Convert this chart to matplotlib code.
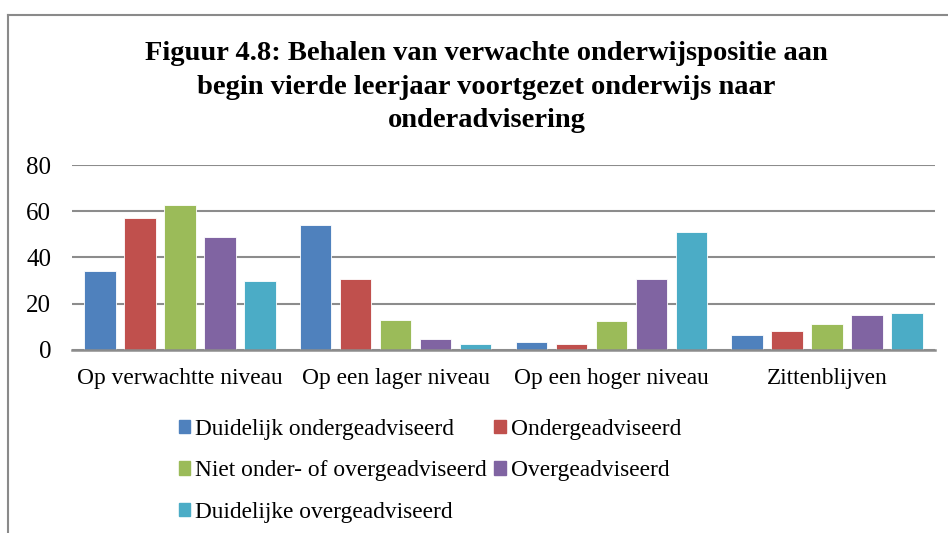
import matplotlib.pyplot as plt
import numpy as np
from matplotlib.lines import Line2D
from matplotlib.patches import Patch

plt.rcParams['font.family'] = ['Liberation Serif', 'DejaVu Serif']

categories = ['Op verwachtte niveau', 'Op een lager niveau', 'Op een hoger niveau', 'Zittenblijven']
series = ['Duidelijk ondergeadviseerd', 'Ondergeadviseerd', 'Niet onder- of overgeadviseerd',
          'Overgeadviseerd', 'Duidelijke overgeadviseerd']
values = [
    [34.1, 54.0, 3.2, 6.4],
    [57.0, 30.6, 2.3, 8.1],
    [62.7, 12.7, 12.3, 11.3],
    [48.7, 4.6, 30.8, 15.0],
    [29.9, 2.3, 50.8, 15.8],
]
colors = ['#4F81BD', '#C0504D', '#9BBB59', '#8064A2', '#4BACC6']
title_lines = ['Figuur 4.8: Behalen van verwachte onderwijspositie aan',
               'begin vierde leerjaar voortgezet onderwijs naar',
               'onderadvisering']

fig = plt.figure(figsize=(9.48, 5.33), dpi=100)
ax = fig.add_axes([72 / 948, 1 - 349.7 / 533, 863 / 948, 184.7 / 533])

x = np.arange(len(categories))
pitch = 0.1854
width = 0.146
for i, (name, vals) in enumerate(zip(series, values)):
    ax.bar(x + (i - 2) * pitch, vals, width, color=colors[i], label=name,
           edgecolor='white', linewidth=0.6, zorder=3)

ax.set_xlim(-0.5, 3.5)
ax.set_ylim(0, 80)
ax.set_yticks([0, 20, 40, 60, 80])
ax.yaxis.grid(True, color='#8c8c8c', linewidth=1.5, zorder=0)
ax.set_xticks(x)
ax.set_xticklabels(categories)
ax.tick_params(axis='both', length=0)
ax.tick_params(axis='x', pad=13, labelsize=16.8)
ax.tick_params(axis='y', pad=15, labelsize=18)
for s in ['top', 'right', 'left']:
    ax.spines[s].set_visible(False)
ax.spines['bottom'].set_color('#8c8c8c')
ax.spines['bottom'].set_linewidth(1.8)
ax.spines['bottom'].set_zorder(4)

for k, line in enumerate(title_lines):
    fig.text(0.513, 1 - (60 + 33.5 * k) / 533, line, ha='center', va='baseline',
             fontsize=20.5, fontweight='bold')

# chart frame
fig.add_artist(Line2D([8 / 948, 8 / 948], [0, 1 - 15 / 533], color='#8a8a8a', lw=1.5))
fig.add_artist(Line2D([8 / 948, 1], [1 - 15 / 533, 1 - 15 / 533], color='#8a8a8a', lw=1.5))

order = [0, 2, 4, 1, 3]
handles = [Patch(color=colors[i]) for i in order]
labels = [series[i] for i in order]
fig.legend(handles, labels, ncol=2, loc='upper left', bbox_to_anchor=(167 / 948, 1 - 407 / 533),
           frameon=False, fontsize=16.8, handlelength=0.5, handleheight=0.5,
           handletextpad=0.22, columnspacing=0.3, labelspacing=0.88, borderpad=0)

fig.savefig('out.png', dpi=100)
